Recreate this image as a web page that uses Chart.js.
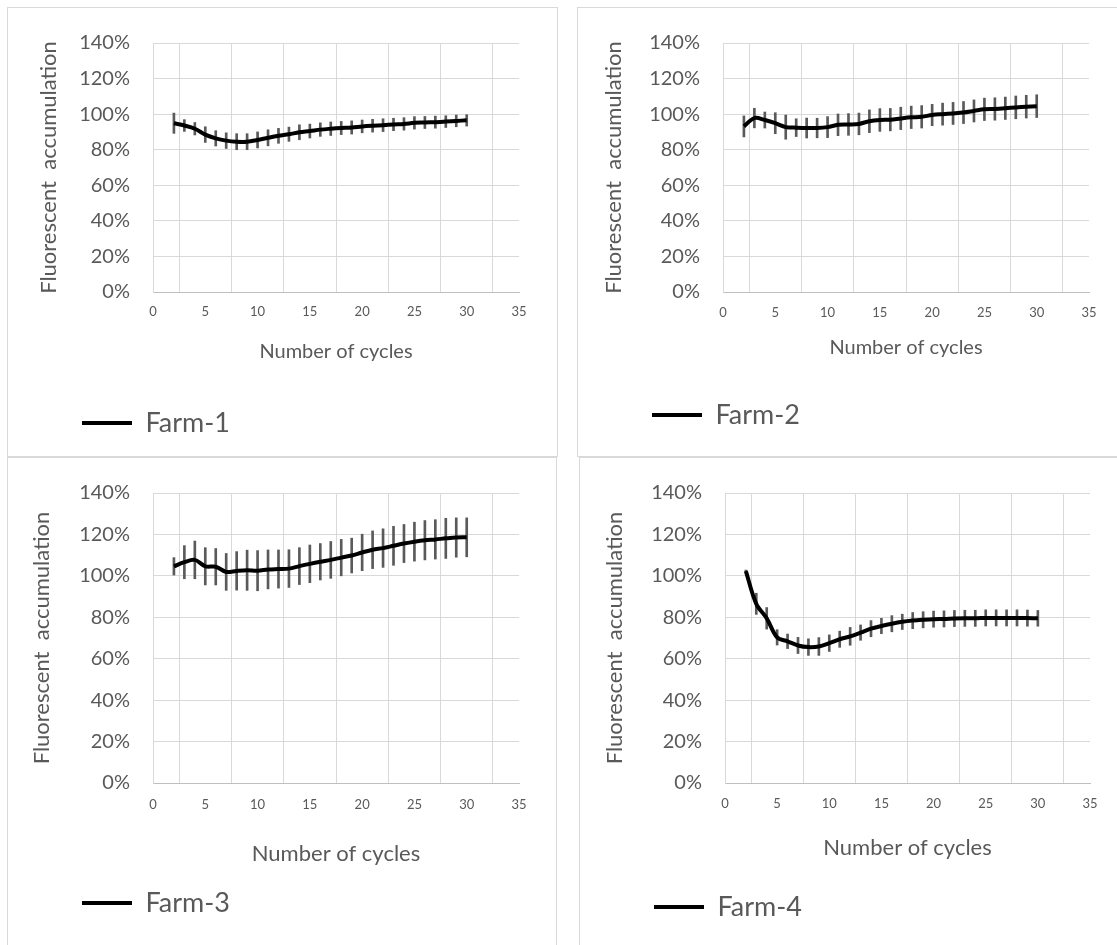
<!DOCTYPE html>
<html>
<head>
<meta charset="utf-8">
<script src="https://cdn.jsdelivr.net/npm/chart.js@4.4.1/dist/chart.umd.min.js"></script>
<style>
  html, body { margin: 0; padding: 0; background: #fff; overflow: hidden; }
  body { width: 1117px; height: 945px; position: relative; }
  .panel { position: absolute; border: 1px solid #d9d9d9; background: #fff; }
  .panel canvas { display: block; }
</style>
</head>
<body>
<div class="panel" style="left:7px; top:7px; width:549px; height:448px;"><canvas id="c1" width="549" height="448"></canvas></div>
<div class="panel" style="left:577px; top:7px; width:549px; height:448px;"><canvas id="c2" width="549" height="448"></canvas></div>
<div class="panel" style="left:7px; top:457px; width:548px; height:520px;"><canvas id="c3" width="548" height="487"></canvas></div>
<div class="panel" style="left:579px; top:457px; width:549px; height:520px;"><canvas id="c4" width="549" height="487"></canvas></div>
<script>
// cycles 2..30
const cycles = [2, 3, 4, 5, 6, 7, 8, 9, 10, 11, 12, 13, 14, 15, 16, 17, 18, 19, 20, 21, 22, 23, 24, 25, 26, 27, 28, 29, 30];

const farm1Mean = [94.9, 93.6, 91.8, 88.5, 86.4, 85.1, 84.5, 84.5, 85.5, 86.7, 87.8, 88.7, 89.8, 90.5, 91.3, 91.8, 92.2, 92.5, 93.1, 93.5, 93.8, 94.2, 94.5, 95.1, 95.3, 95.5, 95.8, 96.2, 96.5];
const farm1Err = [5.7, 3.3, 3.5, 4.4, 4.3, 4.4, 4.5, 4.5, 4.5, 4.5, 4.2, 4.0, 4.2, 3.9, 3.8, 3.8, 3.7, 3.7, 3.6, 3.6, 3.6, 3.5, 3.5, 3.5, 3.4, 3.4, 3.3, 3.3, 3.2];

const farm2Mean = [93.1, 97.8, 96.7, 94.9, 92.7, 92.4, 92.2, 92.2, 92.7, 94.0, 94.2, 94.5, 96.0, 96.7, 96.9, 97.6, 98.2, 98.5, 99.5, 100.0, 100.4, 100.9, 101.8, 102.7, 102.9, 103.3, 103.8, 104.2, 104.5];
const farm2Err = [5.9, 5.5, 4.5, 5.9, 6.8, 5.0, 5.6, 5.5, 5.9, 6.1, 6.1, 6.1, 6.4, 6.4, 6.3, 6.3, 6.3, 6.3, 6.0, 6.2, 6.2, 6.2, 6.2, 6.3, 6.3, 6.3, 6.4, 6.4, 6.4];

const farm3Mean = [104.6, 106.6, 107.7, 104.6, 104.4, 101.9, 102.4, 102.7, 102.5, 103.1, 103.3, 103.5, 104.7, 105.8, 106.8, 107.7, 108.8, 109.8, 111.3, 112.6, 113.4, 114.5, 115.6, 116.5, 117.2, 117.6, 118.1, 118.5, 118.6];
const farm3Err = [4.2, 8.0, 9.1, 9.0, 8.8, 8.9, 9.3, 9.7, 9.7, 9.4, 9.2, 9.1, 8.9, 9.1, 8.8, 8.9, 8.8, 8.4, 8.8, 9.1, 9.3, 9.4, 9.2, 9.4, 9.5, 9.5, 9.7, 9.5, 9.4];

const farm4Mean = [102.3, 86.5, 79.5, 70.3, 68.4, 66.4, 65.6, 65.9, 67.5, 69.4, 70.8, 72.6, 74.5, 75.8, 76.9, 77.8, 78.4, 78.8, 79.1, 79.2, 79.4, 79.5, 79.5, 79.7, 79.7, 79.7, 79.7, 79.6, 79.5];
const farm4Err = [0.5, 5.1, 5.2, 3.7, 3.5, 3.9, 4.0, 4.3, 4.0, 3.9, 4.3, 3.7, 3.9, 3.7, 3.9, 3.7, 3.9, 3.9, 3.9, 3.9, 3.9, 3.9, 3.9, 3.9, 3.9, 3.9, 3.9, 3.9, 3.8];

const xTicks = [0, 5, 10, 15, 20, 25, 30, 35];
const yTicks = [0, 20, 40, 60, 80, 100, 120, 140];

const textColor = '#595959';
const gridColor = '#d9d9d9';
const fontFamily = 'Lato, "Liberation Sans", sans-serif';

function makeChart(id, label, mean, err, lay) {
  const line = cycles.map((c, i) => ({ x: c, y: mean[i] }));
  const bars = cycles.map((c, i) => ({ x: c, y: [mean[i] - err[i], mean[i] + err[i]] }));

  return new Chart(document.getElementById(id), {
    type: 'line',
    data: {
      datasets: [
        {
          type: 'line', label: label, data: line,
          borderColor: '#000', backgroundColor: '#000', borderWidth: 4,
          pointRadius: 0, tension: 0.35, order: 0
        },
        {
          type: 'bar', label: 'err', data: bars,
          backgroundColor: '#5a5a5a', borderWidth: 0, barThickness: 2, order: 1
        }
      ]
    },
    options: {
      responsive: false,
      animation: false,
      layout: { padding: { left: 64, right: lay.right, top: lay.top, bottom: lay.bottom } },
      plugins: {
        tooltip: { enabled: false },
        legend: {
          position: 'bottom',
          align: 'start',
          labels: {
            filter: item => item.datasetIndex === 0,
            usePointStyle: true,
            pointStyle: 'line',
            pointStyleWidth: 50,
            padding: 10,
            color: textColor,
            font: { family: fontFamily, size: 27 }
          }
        }
      },
      scales: {
        x: {
          type: 'linear', min: 0, max: 35, offset: false,
          afterBuildTicks: s => { s.ticks = xTicks.map(v => ({ value: v })); },
          afterFit: s => { s.height = lay.xHeight; },
          ticks: { color: textColor, padding: lay.xTickPad, font: { family: fontFamily, size: 13 } },
          grid: { color: gridColor, drawTicks: false },
          border: { color: '#bfbfbf' },
          title: {
            display: true, text: 'Number of cycles', color: textColor,
            font: { family: fontFamily, size: lay.xTitleSize },
            padding: { top: 0, bottom: lay.xTitlePad }
          }
        },
        y: {
          min: 0, max: 140,
          afterBuildTicks: s => { s.ticks = yTicks.map(v => ({ value: v })); },
          afterFit: s => { s.width = 81; },
          ticks: {
            color: textColor, padding: 23, font: { family: fontFamily, size: 20 },
            callback: v => v + '%'
          },
          grid: { color: gridColor, drawTicks: false },
          border: { color: gridColor },
          title: {
            display: true, text: 'Fluorescent  accumulation', color: textColor,
            font: { family: fontFamily, size: 22 },
            padding: { top: lay.yTitlePad, bottom: 0 }
          }
        }
      }
    }
  });
}

makeChart('c1', 'Farm-1', farm1Mean, farm1Err,
  { right: 38, top: 30, bottom: 9.5, xHeight: 107.5, xTickPad: 12, xTitleSize: 20, xTitlePad: 35.5, yTitlePad: -36 });
makeChart('c2', 'Farm-2', farm2Mean, farm2Err,
  { right: 38, top: 30, bottom: 17.5, xHeight: 99.5, xTickPad: 13, xTitleSize: 20, xTitlePad: 31.5, yTitlePad: -41.5 });
makeChart('c3', 'Farm-3', farm3Mean, farm3Err,
  { right: 37, top: 28, bottom: 18.5, xHeight: 96.5, xTickPad: 14, xTitleSize: 22, xTitlePad: 12.3, yTitlePad: -43 });
makeChart('c4', 'Farm-4', farm4Mean, farm4Err,
  { right: 39, top: 29, bottom: 14.5, xHeight: 100.5, xTickPad: 13, xTitleSize: 22, xTitlePad: 22.3, yTitlePad: -42 });
</script>
</body>
</html>
